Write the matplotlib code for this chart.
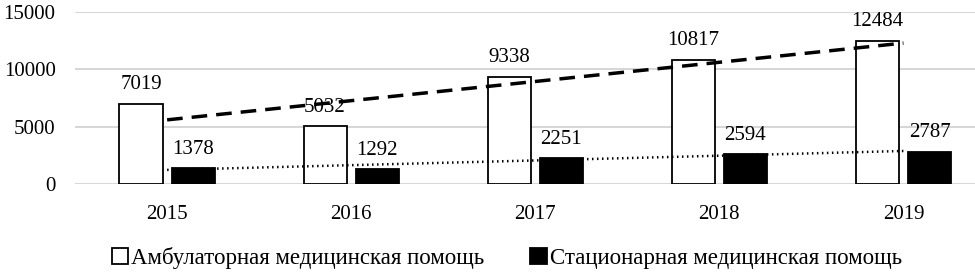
import numpy as np
import matplotlib
matplotlib.use("Agg")
import matplotlib.pyplot as plt

# Данные
years = ["2015", "2016", "2017", "2018", "2019"]
ambulatory = [7019, 5032, 9338, 10817, 12484]
inpatient = [1378, 1292, 2251, 2594, 2787]
series_names = ["Амбулаторная медицинская помощь", "Стационарная медицинская помощь"]

plt.rcParams['font.family'] = ['Liberation Serif', 'DejaVu Serif']
plt.rcParams['font.size'] = 15

fig = plt.figure(figsize=(9.75, 2.76), dpi=100)
ax = fig.add_axes([0.077, 0.333, 0.944, 0.624])

x = np.arange(len(years))
w = 0.234
off = 0.142

b1 = ax.bar(x - off, ambulatory, w, color='white', edgecolor='black', linewidth=1.3,
            label=series_names[0], zorder=3)
b2 = ax.bar(x + off, inpatient, w, color='black', edgecolor='black', linewidth=1.3,
            label=series_names[1], zorder=3)

# Подписи значений
for bars, vals in ((b1, ambulatory), (b2, inpatient)):
    for bar, v in zip(bars, vals):
        ax.annotate(str(v), (bar.get_x() + bar.get_width() / 2, v),
                    xytext=(0, 7), textcoords='offset points',
                    ha='center', va='bottom', fontsize=15)

# Линейные тренды
k1, c1 = np.polyfit(x, ambulatory, 1)
k2, c2 = np.polyfit(x, inpatient, 1)
ax.plot(x, k1 * x + c1, color='black', linestyle=(0, (4.5, 2.6)), linewidth=2.5, zorder=4)
ax.plot(x, k2 * x + c2, color='black', linestyle=(0, (0.6, 1.4)), linewidth=1.8, zorder=4)

ax.set_ylim(0, 15000)
ax.set_yticks([0, 5000, 10000, 15000])
ax.set_xlim(-0.5, 4.5)
ax.set_xticks(x)
ax.set_xticklabels(years)
ax.tick_params(axis='x', length=0, pad=15)
ax.tick_params(axis='y', length=0, pad=14)
ax.grid(axis='y', color='#d0d0d0', linewidth=1.2, zorder=0)
for s in ax.spines.values():
    s.set_visible(False)

leg = fig.legend(handles=[b1, b2], loc='center', bbox_to_anchor=(0.52, 0.065), ncol=2,
                 frameon=False, handlelength=0.7, handleheight=0.7, handletextpad=0.15,
                 columnspacing=2.0, fontsize=16.5)

fig.savefig("out.png", dpi=100)
